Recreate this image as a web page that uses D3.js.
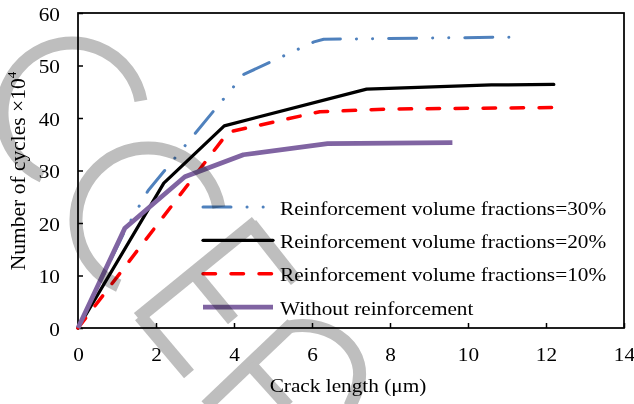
<!DOCTYPE html>
<html>
<head>
<meta charset="utf-8">
<script src="https://cdn.jsdelivr.net/npm/d3@7"></script>
<style>
  html, body { margin: 0; padding: 0; background: #fff; }
  svg { display: block; font-family: "Liberation Serif", "Times New Roman", serif; }
</style>
</head>
<body>
<svg id="chart" width="634" height="404"></svg>
<script>
// crack length (um) against number of cycles (x10^4)
var crack30 = [0, 1.2, 1.8, 4.25, 6.05, 6.3, 11.1];
var cycles30 = [0, 18.5, 26.2, 48.3, 54.5, 55.0, 55.4];
var crack20 = [0, 2.2, 3.75, 7.4, 10.6, 12.2];
var cycles20 = [0, 27.6, 38.5, 45.5, 46.3, 46.4];
var crack10 = [0, 3.85, 6.2, 8.0, 12.2];
var cycles10 = [0, 37.3, 41.2, 41.7, 42.0];
var crack0 = [0, 1.2, 2.74, 4.24, 6.4, 9.6];
var cycles0 = [0, 19.0, 28.8, 33.0, 35.1, 35.3];

var seriesNames = [
  'Reinforcement volume fractions=30%',
  'Reinforcement volume fractions=20%',
  'Reinforcement volume fractions=10%',
  'Without reinforcement'
];
var xTicks = [0, 2, 4, 6, 8, 10, 12, 14];
var yTicks = [0, 10, 20, 30, 40, 50, 60];

var FX = 1.12; // text in the picture is a bit wider than it is tall

var svg = d3.select('#chart');

var x = d3.scaleLinear().domain([0, 14]).range([78, 624]);
var y = d3.scaleLinear().domain([0, 60]).range([328, 13]);

function zip(xs, ys) {
  return xs.map(function (v, i) { return [v, ys[i]]; });
}

var series = [
  { name: seriesNames[0], pts: zip(crack30, cycles30), color: '#4F81BD', width: 3, dash: '28,16,0.1,16,0.1,16', cap: 'round' },
  { name: seriesNames[1], pts: zip(crack20, cycles20), color: '#000000', width: 3.25, dash: null, cap: 'round' },
  { name: seriesNames[2], pts: zip(crack10, cycles10), color: '#FF0000', width: 3.5, dash: '12.5,15.5', cap: 'round' },
  { name: seriesNames[3], pts: zip(crack0, cycles0), color: '#8064A2', width: 4.75, dash: null, cap: 'butt' }
];

function addText(g, px, py, s, size, anchor) {
  return g.append('text')
    .attr('transform', 'translate(' + px + ',' + py + ') scale(' + FX + ',1)')
    .attr('text-anchor', anchor)
    .attr('font-size', size)
    .attr('fill', '#000')
    .text(s);
}

// plot frame
svg.append('rect')
  .attr('x', x(0)).attr('y', y(60))
  .attr('width', x(14) - x(0)).attr('height', y(0) - y(60))
  .attr('fill', 'none').attr('stroke', '#000').attr('stroke-width', 1.75);

// axes, ticks pointing inward
var gx = svg.append('g')
  .attr('transform', 'translate(0,' + y(0) + ')')
  .call(d3.axisBottom(x).tickValues(xTicks).tickSize(-5).tickSizeOuter(0));
gx.attr('font-family', null).attr('font-size', 19);
gx.select('.domain').remove();
gx.selectAll('.tick line').attr('stroke', '#000').attr('stroke-width', 1.5);
gx.selectAll('.tick text')
  .attr('y', 33).attr('dy', null)
  .attr('fill', '#000')
  .attr('transform', 'scale(' + FX + ',1)');

var gy = svg.append('g')
  .attr('transform', 'translate(' + x(0) + ',0)')
  .call(d3.axisLeft(y).tickValues(yTicks).tickSize(-5).tickSizeOuter(0));
gy.attr('font-family', null).attr('font-size', 19);
gy.select('.domain').remove();
gy.selectAll('.tick line').attr('stroke', '#000').attr('stroke-width', 1.5);
gy.selectAll('.tick text')
  .attr('x', -18 / FX).attr('dy', 7)
  .attr('fill', '#000')
  .attr('transform', 'scale(' + FX + ',1)');

// axis titles
addText(svg, 348, 392, 'Crack length (\u03bcm)', 19, 'middle');

var yTitle = svg.append('text')
  .attr('transform', 'translate(25,171) rotate(-90)')
  .attr('text-anchor', 'middle')
  .attr('font-size', 21.5)
  .attr('fill', '#000');
yTitle.append('tspan').text('Number of cycles \u00d710');
yTitle.append('tspan').attr('font-size', 13).attr('dy', -9).text('4');

// series lines
var line = d3.line()
  .x(function (d) { return x(d[0]); })
  .y(function (d) { return y(d[1]); });

svg.append('g').selectAll('path')
  .data(series)
  .join('path')
  .attr('d', function (d) { return line(d.pts); })
  .attr('fill', 'none')
  .attr('stroke', function (d) { return d.color; })
  .attr('stroke-width', function (d) { return d.width; })
  .attr('stroke-dasharray', function (d) { return d.dash; })
  .attr('stroke-linecap', function (d) { return d.cap; })
  .attr('stroke-linejoin', 'round');

// legend
var legendY = d3.scalePoint().domain(seriesNames).range([207, 307]);
var legend = svg.append('g');
series.forEach(function (s) {
  var ly = legendY(s.name);
  legend.append('line')
    .attr('x1', 203).attr('x2', 273)
    .attr('y1', ly).attr('y2', ly)
    .attr('stroke', s.color)
    .attr('stroke-width', s.width)
    .attr('stroke-dasharray', s.dash)
    .attr('stroke-linecap', s.cap);
  addText(legend, 280, ly + 7.5, s.name, 19, 'start');
});

// grey watermark strokes lying over the figure
var wm = svg.append('g')
  .attr('fill', 'none')
  .attr('stroke', '#bebebe')
  .attr('stroke-width', 13)
  .style('mix-blend-mode', 'multiply');

var deg = Math.PI / 180;
var c1 = d3.path();
c1.arc(72, 113, 70, -10 * deg, 115 * deg, true);
wm.append('path').attr('d', c1.toString());

var c2 = d3.path();
c2.arc(148, 220, 72, -10 * deg, 114 * deg, true);
wm.append('path').attr('d', c2.toString());

// rotated E
wm.append('path').attr('d', 'M138,318L256,222');
wm.append('path').attr('d', 'M251,224L296,281');
wm.append('path').attr('d', 'M195,274L233,320');
wm.append('path').attr('d', 'M140,316L189,374');
// rotated P
wm.append('path').attr('d', 'M206,406L292,324');
wm.append('path').attr('d', 'M288,327C332,318 372,352 356,392L350,406');
wm.append('path').attr('d', 'M250,364L288,406');
</script>
</body>
</html>
